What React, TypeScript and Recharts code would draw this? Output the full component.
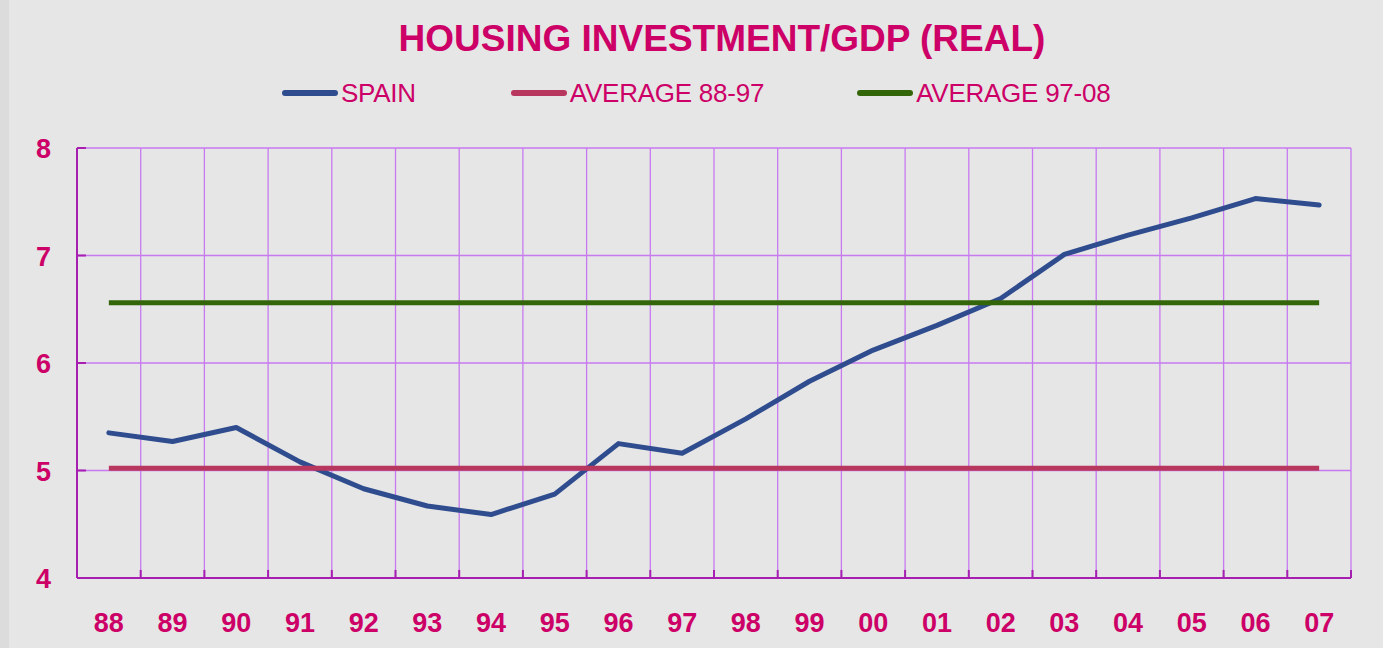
import React from "react";
import { ComposedChart, Line, XAxis, YAxis, CartesianGrid, Legend, ReferenceLine } from "recharts";

const years = ["88","89","90","91","92","93","94","95","96","97","98","99","00","01","02","03","04","05","06","07"];
const spain = [5.35,5.27,5.40,5.08,4.83,4.67,4.59,4.78,5.25,5.16,5.48,5.83,6.12,6.35,6.60,7.01,7.19,7.35,7.53,7.47];
const avg8897 = [5.02,5.02,5.02,5.02,5.02,5.02,5.02,5.02,5.02,5.02,5.02,5.02,5.02,5.02,5.02,5.02,5.02,5.02,5.02,5.02];
const avg9708 = [6.56,6.56,6.56,6.56,6.56,6.56,6.56,6.56,6.56,6.56,6.56,6.56,6.56,6.56,6.56,6.56,6.56,6.56,6.56,6.56];
const yTicks = [4,5,6,7,8];
const gridTicks = [0,1,2,3,4,5,6,7,8,9,10,11,12,13,14,15,16,17,18,19,20];
const seriesNames = ["SPAIN", "AVERAGE 88-97", "AVERAGE 97-08"];

const data = years.map((y, i) => ({ year: y, pos: i + 0.5, spain: spain[i], a1: avg8897[i], a2: avg9708[i] }));

const PINK = "#cc0066";
const AXIS = "#a61fb0";
const GRID = "#c77af0";

const XTick = (props: any) => {
  const { x, y, payload } = props;
  return (
    <text x={x} y={y + 54} textAnchor="middle" fill={PINK} fontSize={27} fontWeight="bold" fontFamily="Liberation Sans, Arial, sans-serif">
      {payload.value}
    </text>
  );
};

const YTick = (props: any) => {
  const { x, y, payload } = props;
  return (
    <text x={x} y={y + 10} textAnchor="end" fill={PINK} fontSize={27} fontWeight="bold" fontFamily="Liberation Sans, Arial, sans-serif">
      {payload.value}
    </text>
  );
};

const LegendContent = (props: any) => {
  const payload = [...(props.payload || [])].sort(
    (a: any, b: any) => seriesNames.indexOf(a.value) - seriesNames.indexOf(b.value)
  );
  const gaps = [95, 93];
  return (
    <div style={{ display: "flex", justifyContent: "flex-start", paddingLeft: 282, alignItems: "center", height: 30 }}>
      {payload.map((p: any, i: number) => (
        <div key={i} style={{ display: "flex", alignItems: "center", marginRight: i < gaps.length ? gaps[i] : 0 }}>
          <svg width={56} height={8} style={{ marginRight: 3 }}>
            <line x1={3} y1={4} x2={53} y2={4} stroke={p.color} strokeWidth={6} strokeLinecap="round" />
          </svg>
          <span style={{ color: PINK, fontSize: 26, fontFamily: "Liberation Sans, Arial, sans-serif", lineHeight: "30px", letterSpacing: -0.25 }}>
            {p.value}
          </span>
        </div>
      ))}
    </div>
  );
};

export default function App() {
  return (
    <div style={{ position: "absolute", left: 0, top: 0, width: 1383, height: 648, background: "#e6e6e6", overflow: "hidden" }}>
      <div style={{ position: "absolute", left: 0, top: 0, width: 9, height: 648, background: "#dcdcdc" }} />
      <div style={{ position: "absolute", left: 0, top: 17, width: 1444, textAlign: "center", color: PINK, fontSize: 37, fontWeight: "bold", fontFamily: "Liberation Sans, Arial, sans-serif", lineHeight: "44px" }}>
        HOUSING INVESTMENT/GDP (REAL)
      </div>
      <ComposedChart width={1383} height={648} data={data} margin={{ top: 118, right: 32, bottom: 0, left: 0 }}>
        <XAxis xAxisId="grid" dataKey="pos" type="number" domain={[0, 20]} allowDataOverflow ticks={gridTicks} hide />
        <CartesianGrid xAxisId="grid" stroke={GRID} strokeWidth={1.3} strokeOpacity={1} />
        <XAxis dataKey="year" scale="band" height={70} tickSize={0} tickMargin={0} tick={<XTick />} axisLine={{ stroke: AXIS, strokeWidth: 2 }} tickLine={false} interval={0} />
        <YAxis domain={[4, 8]} ticks={yTicks} width={77} tickSize={0} tickMargin={26} tick={<YTick />} axisLine={{ stroke: AXIS, strokeWidth: 2 }} tickLine={false} />
        {gridTicks.map((t) => (
          <ReferenceLine key={"xt" + t} xAxisId="grid" segment={[{ x: t, y: 4 }, { x: t, y: 4.075 }]} stroke={AXIS} strokeWidth={2} />
        ))}
        {yTicks.map((t) => (
          <ReferenceLine key={"yt" + t} xAxisId="grid" segment={[{ x: 0, y: t }, { x: 0.14, y: t }]} stroke={AXIS} strokeWidth={2} />
        ))}
        <Legend verticalAlign="top" align="left" content={<LegendContent />} wrapperStyle={{ top: 78, left: 0, width: 1383 }} />
        <Line dataKey="spain" name="SPAIN" stroke="#2f4d8e" strokeWidth={5} dot={false} isAnimationActive={false} strokeLinecap="round" strokeLinejoin="round" />
        <Line dataKey="a1" name="AVERAGE 88-97" stroke="#b8375e" strokeWidth={5} dot={false} isAnimationActive={false} />
        <Line dataKey="a2" name="AVERAGE 97-08" stroke="#336608" strokeWidth={5} dot={false} isAnimationActive={false} />
      </ComposedChart>
    </div>
  );
}
